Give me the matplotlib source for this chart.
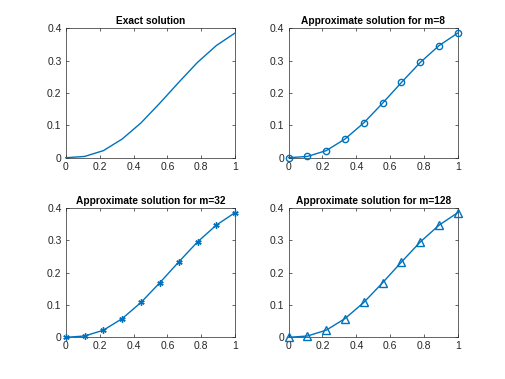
import matplotlib
matplotlib.use("Agg")
import matplotlib.pyplot as plt
import numpy as np

x = [0, 1/9, 2/9, 3/9, 4/9, 5/9, 6/9, 7/9, 8/9, 1]
u_exact = [0.0, 0.004, 0.022, 0.058, 0.108, 0.169, 0.233, 0.295, 0.347, 0.386]
u_m8 = [0.0, 0.004, 0.022, 0.058, 0.108, 0.169, 0.233, 0.295, 0.347, 0.386]
u_m32 = [0.0, 0.004, 0.022, 0.058, 0.108, 0.169, 0.233, 0.295, 0.347, 0.386]
u_m128 = [0.0, 0.004, 0.022, 0.058, 0.108, 0.169, 0.233, 0.295, 0.347, 0.386]
titles = ["Exact solution", "Approximate solution for m=8",
          "Approximate solution for m=32", "Approximate solution for m=128"]
xticks = [0, 0.2, 0.4, 0.6, 0.8, 1]
xticklabels = ["0", "0.2", "0.4", "0.6", "0.8", "1"]
yticks = [0, 0.1, 0.2, 0.3, 0.4]
yticklabels = ["0", "0.1", "0.2", "0.3", "0.4"]

plt.rcParams['font.family'] = ['Liberation Sans', 'DejaVu Sans']
color = '#0072BD'
axcol = '#262626'

fig = plt.figure(figsize=(5.06, 3.79), dpi=100)
positions = [[0.13, 0.5838, 0.3347, 0.3412], [0.5703, 0.5838, 0.3347, 0.3412],
             [0.13, 0.11, 0.3347, 0.3412], [0.5703, 0.11, 0.3347, 0.3412]]
series = [u_exact, u_m8, u_m32, u_m128]
markers = [None, 'o', (6, 2, 0), '^']
msizes = [0, 4.5, 4.5, 5.5]

for pos, y, mk, ms, t in zip(positions, series, markers, msizes, titles):
    ax = fig.add_axes(pos)
    ax.plot(x, y, color=color, lw=1.0, marker=mk, ms=ms, mfc='none',
            mec=color, mew=1.0, clip_on=False, zorder=3)
    ax.set_xlim(0, 1)
    ax.set_ylim(0, 0.4)
    ax.set_xticks(xticks)
    ax.set_xticklabels(xticklabels)
    ax.set_yticks(yticks)
    ax.set_yticklabels(yticklabels)
    ax.tick_params(direction='in', length=2.5, width=0.5, top=True, right=True,
                   labelsize=7.5, colors=axcol, pad=3)
    for s in ax.spines.values():
        s.set_linewidth(0.5)
        s.set_color(axcol)
    ax.set_title(t, fontsize=7.3, fontweight='bold', color='black', pad=3)

fig.savefig("out.png", dpi=100)
